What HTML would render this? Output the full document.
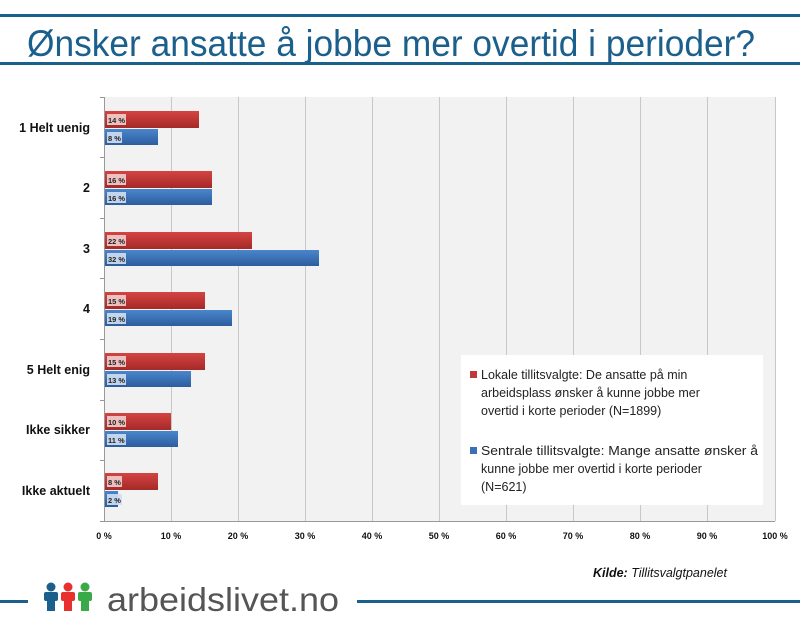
<!DOCTYPE html>
<html><head><meta charset="utf-8"><style>
html,body{margin:0;padding:0;background:#fff;}
svg{display:block;font-family:"Liberation Sans",sans-serif;}
</style></head><body>
<svg width="800" height="627" viewBox="0 0 800 627" xmlns="http://www.w3.org/2000/svg">
<defs>
<linearGradient id="r" x1="0" y1="0" x2="0" y2="1"><stop offset="0" stop-color="#d44442"/><stop offset="1" stop-color="#a52a28"/></linearGradient>
<linearGradient id="b" x1="0" y1="0" x2="0" y2="1"><stop offset="0" stop-color="#4a86cc"/><stop offset="1" stop-color="#2c5d9e"/></linearGradient>
</defs>
<rect x="0" y="14" width="800" height="3" fill="#1b5f8c"/>
<rect x="0" y="62" width="800" height="3" fill="#1b5f8c"/>
<text x="27" y="56" font-size="37" fill="#1b5f8c" textLength="728" lengthAdjust="spacingAndGlyphs">Ønsker ansatte å jobbe mer overtid i perioder?</text>
<rect x="104" y="97" width="671" height="424" fill="#f2f2f2"/>
<g stroke="#c8c8c8" stroke-width="1">
<line x1="171.5" y1="97" x2="171.5" y2="521"/><line x1="238.5" y1="97" x2="238.5" y2="521"/><line x1="305.5" y1="97" x2="305.5" y2="521"/><line x1="372.5" y1="97" x2="372.5" y2="521"/><line x1="439.5" y1="97" x2="439.5" y2="521"/><line x1="506.5" y1="97" x2="506.5" y2="521"/><line x1="573.5" y1="97" x2="573.5" y2="521"/><line x1="640.5" y1="97" x2="640.5" y2="521"/><line x1="707.5" y1="97" x2="707.5" y2="521"/><line x1="775.5" y1="97" x2="775.5" y2="521"/>
</g>
<g stroke="#999" stroke-width="1">
<line x1="104.5" y1="97" x2="104.5" y2="521"/><line x1="100" y1="521.5" x2="775" y2="521.5"/>
<line x1="100" y1="97.5" x2="104" y2="97.5"/><line x1="100" y1="157.5" x2="104" y2="157.5"/><line x1="100" y1="218.5" x2="104" y2="218.5"/><line x1="100" y1="278.5" x2="104" y2="278.5"/><line x1="100" y1="339.5" x2="104" y2="339.5"/><line x1="100" y1="400.5" x2="104" y2="400.5"/><line x1="100" y1="460.5" x2="104" y2="460.5"/>
</g>
<g fill="url(#r)">
<rect x="105" y="111" width="94" height="17"/>
<rect x="105" y="171" width="107" height="17"/>
<rect x="105" y="232" width="147" height="17"/>
<rect x="105" y="292" width="100" height="17"/>
<rect x="105" y="353" width="100" height="17"/>
<rect x="105" y="413" width="66" height="17"/>
<rect x="105" y="473" width="53" height="17"/>
</g>
<g fill="url(#b)">
<rect x="105" y="129" width="53" height="16"/>
<rect x="105" y="189" width="107" height="16"/>
<rect x="105" y="250" width="214" height="16"/>
<rect x="105" y="310" width="127" height="16"/>
<rect x="105" y="371" width="86" height="16"/>
<rect x="105" y="431" width="73" height="16"/>
<rect x="105" y="491" width="13" height="16"/>
</g>
<g fill="#f2d0cf" opacity="0.9">
<rect x="107" y="114" width="19" height="11"/><rect x="107" y="174" width="19" height="11"/><rect x="107" y="235" width="19" height="11"/><rect x="107" y="295" width="19" height="11"/><rect x="107" y="356" width="19" height="11"/><rect x="107" y="416" width="19" height="11"/><rect x="107" y="476" width="15" height="11"/>
</g>
<g fill="#d2e0f2" opacity="0.9">
<rect x="107" y="132" width="15" height="11"/><rect x="107" y="192" width="19" height="11"/><rect x="107" y="253" width="19" height="11"/><rect x="107" y="313" width="19" height="11"/><rect x="107" y="374" width="19" height="11"/><rect x="107" y="434" width="19" height="11"/><rect x="107" y="494" width="15" height="11"/>
</g>
<g font-size="7.5" font-weight="bold" fill="#222">
<text x="108" y="123">14 %</text><text x="108" y="141">8 %</text>
<text x="108" y="183">16 %</text><text x="108" y="201">16 %</text>
<text x="108" y="244">22 %</text><text x="108" y="262">32 %</text>
<text x="108" y="304">15 %</text><text x="108" y="322">19 %</text>
<text x="108" y="365">15 %</text><text x="108" y="383">13 %</text>
<text x="108" y="425">10 %</text><text x="108" y="443">11 %</text>
<text x="108" y="485">8 %</text><text x="108" y="503">2 %</text>
</g>
<g font-size="12.5" font-weight="bold" fill="#111" text-anchor="end">
<text x="90" y="132">1 Helt uenig</text>
<text x="90" y="192">2</text>
<text x="90" y="253">3</text>
<text x="90" y="313">4</text>
<text x="90" y="374">5 Helt enig</text>
<text x="90" y="434">Ikke sikker</text>
<text x="90" y="495">Ikke aktuelt</text>
</g>
<g font-size="9" font-weight="bold" fill="#111" text-anchor="middle">
<text x="104" y="539">0 %</text><text x="171" y="539">10 %</text><text x="238" y="539">20 %</text><text x="305" y="539">30 %</text><text x="372" y="539">40 %</text><text x="439" y="539">50 %</text><text x="506" y="539">60 %</text><text x="573" y="539">70 %</text><text x="640" y="539">80 %</text><text x="707" y="539">90 %</text><text x="775" y="539">100 %</text>
</g>
<rect x="461" y="355" width="302" height="150" fill="#fff"/>
<rect x="470" y="371" width="7" height="7" fill="#c0393a"/>
<rect x="470" y="447" width="7" height="7" fill="#3a70b8"/>
<g font-size="12.5" fill="#222">
<text x="481" y="379">Lokale tillitsvalgte: De ansatte på min</text>
<text x="481" y="397">arbeidsplass ønsker å kunne jobbe mer</text>
<text x="481" y="415">overtid i korte perioder (N=1899)</text>
<text x="481" y="455" textLength="277" lengthAdjust="spacingAndGlyphs">Sentrale tillitsvalgte: Mange ansatte ønsker å</text>
<text x="481" y="473">kunne jobbe mer overtid i korte perioder</text>
<text x="481" y="491">(N=621)</text>
</g>
<text x="593" y="577" font-size="12.5" font-style="italic" fill="#111"><tspan font-weight="bold">Kilde:</tspan> Tillitsvalgtpanelet</text>
<rect x="0" y="600" width="28" height="3" fill="#1b5f8c"/>
<rect x="357" y="600" width="443" height="3" fill="#1b5f8c"/>
<g>
<circle cx="51" cy="587" r="4.5" fill="#1b5f8c"/><rect x="44" y="592" width="14" height="9" rx="2" fill="#1b5f8c"/><rect x="47" y="598" width="8" height="13" fill="#1b5f8c"/>
<circle cx="68" cy="587" r="4.5" fill="#e8302f"/><rect x="61" y="592" width="14" height="9" rx="2" fill="#e8302f"/><rect x="64" y="598" width="8" height="13" fill="#e8302f"/>
<circle cx="85" cy="587" r="4.5" fill="#3aaa48"/><rect x="78" y="592" width="14" height="9" rx="2" fill="#3aaa48"/><rect x="81" y="598" width="8" height="13" fill="#3aaa48"/>
</g>
<text x="107" y="611" font-size="33" fill="#555" textLength="232" lengthAdjust="spacingAndGlyphs">arbeidslivet.no</text>
</svg>
</body></html>
